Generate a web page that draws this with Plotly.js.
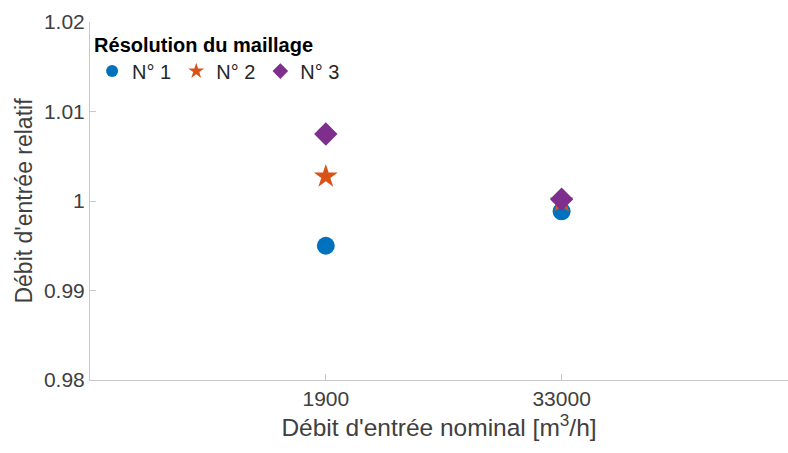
<!DOCTYPE html>
<html>
<head>
<meta charset="utf-8">
<script src="https://cdn.plot.ly/plotly-3.0.1.min.js"></script>
<style>html,body{margin:0;padding:0;background:#fff;}#chart{width:788px;height:453px;}</style>
</head>
<body>
<div id="chart"></div>
<script>
const categories = ["1900", "33000"];
const seriesNames = ["N° 1", "N° 2", "N° 3"];
const valuesN1 = [0.9950, 0.99885];
const valuesN2 = [1.00274, 0.99995];
const valuesN3 = [1.00748, 1.00020];
const yTickVals = [0.98, 0.99, 1.00, 1.01, 1.02];
const yTickText = ["0.98", "0.99", "1", "1.01", "1.02"];

const colors = ["#0072BD", "#D95319", "#7E2F8E"];
const symbols = ["circle", "star", "diamond"];
const sizes = [18, 18, 18];
const allValues = [valuesN1, valuesN2, valuesN3];

const traces = allValues.map((vals, i) => ({
  type: "scatter",
  mode: "markers",
  name: seriesNames[i],
  x: categories,
  y: vals,
  marker: { color: colors[i], symbol: symbols[i], size: sizes[i], line: { width: 0 } }
}));

const font = "Liberation Sans, Arial, sans-serif";
const layout = {
  width: 788,
  height: 453,
  margin: { l: 90, r: 0, t: 22, b: 73 },
  paper_bgcolor: "#fff",
  plot_bgcolor: "#fff",
  font: { family: font, color: "#404040", size: 21 },
  showlegend: true,
  xaxis: {
    type: "category",
    range: [-1, 1.96],
    showgrid: false,
    zeroline: false,
    showline: true,
    linecolor: "#c8c8c8",
    linewidth: 1,
    ticks: "inside",
    ticklen: 6,
    tickcolor: "#c8c8c8",
    tickfont: { family: font, size: 21, color: "#404040" },
    title: { text: "Débit d'entrée nominal [m<sup>3</sup>/h]", font: { family: font, size: 24.5, color: "#404040" }, standoff: 5 }
  },
  yaxis: {
    range: [0.98, 1.02],
    tickvals: yTickVals,
    ticktext: yTickText,
    showgrid: false,
    zeroline: false,
    showline: true,
    linecolor: "#c8c8c8",
    linewidth: 1,
    ticks: "inside",
    ticklen: 6,
    tickcolor: "#c8c8c8",
    tickfont: { family: font, size: 21, color: "#404040" },
    title: { text: "Débit d'entrée relatif", font: { family: font, size: 23, color: "#404040" }, standoff: 4 }
  },
  legend: {
    orientation: "h",
    x: 0.003,
    xanchor: "left",
    y: 0.99,
    yanchor: "top",
    bgcolor: "rgba(255,255,255,0)",
    itemsizing: "constant",
    itemwidth: 30,
    tracegroupgap: 0,
    font: { family: font, size: 20, color: "#262626" },
    title: { text: "<b>Résolution du maillage</b>", side: "top", font: { family: font, size: 20, color: "#000" } }
  }
};

Plotly.newPlot("chart", traces, layout, { displayModeBar: false, staticPlot: true });
</script>
</body>
</html>
